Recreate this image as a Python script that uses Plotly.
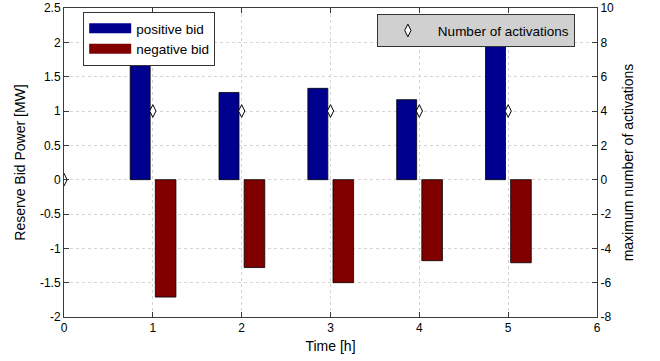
import plotly.graph_objects as go

hours = [1, 2, 3, 4, 5]
positive_bid = [1.73, 1.27, 1.33, 1.165, 2.3]
negative_bid = [-1.71, -1.28, -1.50, -1.18, -1.21]
act_hours = [0, 1, 2, 3, 4, 5]
activations = [0, 4, 4, 4, 4, 4]

x_ticks = [0, 1, 2, 3, 4, 5, 6]
y_ticks = [-2, -1.5, -1, -0.5, 0, 0.5, 1, 1.5, 2, 2.5]
y2_ticks = [-8, -6, -4, -2, 0, 2, 4, 6, 8, 10]

def lab(v):
    return "%g" % v  # plain hyphen-minus like the reference

FONT = "Liberation Sans, Arial, sans-serif"
AX = "#3a3a3a"
BLUE = "#00008f"
RED = "#800000"

fig = go.Figure()
fig.add_trace(go.Bar(x=hours, y=positive_bid, name="positive bid", offset=-0.255, width=0.225,
                     marker=dict(color=BLUE, line=dict(color="#000000", width=0.8)),
                     showlegend=False))
fig.add_trace(go.Bar(x=hours, y=negative_bid, name="negative bid", offset=0.028, width=0.232,
                     marker=dict(color=RED, line=dict(color="#000000", width=0.8)),
                     showlegend=False))
# legend entries drawn as wide swatches
fig.add_trace(go.Scatter(x=[None], y=[None], mode="lines", name="positive bid",
                         line=dict(color=BLUE, width=15), legend="legend"))
fig.add_trace(go.Scatter(x=[None], y=[None], mode="lines", name="negative bid",
                         line=dict(color=RED, width=15), legend="legend"))
fig.add_trace(go.Scatter(x=act_hours, y=activations, name="Number of activations", mode="markers",
                         yaxis="y2", legend="legend2",
                         marker=dict(symbol="diamond-tall", size=9, color="white",
                                     line=dict(color="#000000", width=1))))

fig.update_layout(
    width=660, height=361,
    margin=dict(l=64, r=63, t=8, b=44, autoexpand=False),
    paper_bgcolor="white", plot_bgcolor="white",
    font=dict(family=FONT, size=12, color="black"),
    barmode="overlay",
    xaxis=dict(range=[0, 6], tickvals=x_ticks, ticktext=[lab(v) for v in x_ticks],
               ticks="inside", ticklen=5, tickcolor=AX,
               showline=True, linecolor=AX, linewidth=1, mirror="ticks",
               showgrid=True, gridcolor="#d4d4d4", griddash="dot", zeroline=False,
               automargin=False,
               title=dict(text="Time [h]", standoff=6), tickfont=dict(size=12)),
    yaxis=dict(range=[-2, 2.5], tickvals=y_ticks, ticktext=[lab(v) for v in y_ticks],
               ticks="inside", ticklen=5, tickcolor=AX,
               showline=True, linecolor=AX, linewidth=1, automargin=False,
               showgrid=True, gridcolor="#d4d4d4", griddash="dot", zeroline=False,
               title=dict(text="Reserve Bid Power [MW]", standoff=11), tickfont=dict(size=12)),
    yaxis2=dict(range=[-8, 10], tickvals=y2_ticks, ticktext=[lab(v) for v in y2_ticks],
                overlaying="y", side="right", automargin=False,
                ticks="inside", ticklen=5, tickcolor=AX,
                showline=True, linecolor=AX, linewidth=1, showgrid=False, zeroline=False,
                title=dict(text="maximum number of activations", standoff=10), tickfont=dict(size=12)),
    legend=dict(x=0.036, y=0.987, xanchor="left", yanchor="top", bgcolor="white",
                bordercolor="#333333", borderwidth=1, tracegroupgap=0, itemwidth=42,
                font=dict(size=13.5)),
    legend2=dict(x=0.587, y=0.98, xanchor="left", yanchor="top", bgcolor="#d0d0d0",
                 bordercolor="#333333", borderwidth=1, itemwidth=50, font=dict(size=13.5)),
    showlegend=True,
)

fig.write_html("out.html")
